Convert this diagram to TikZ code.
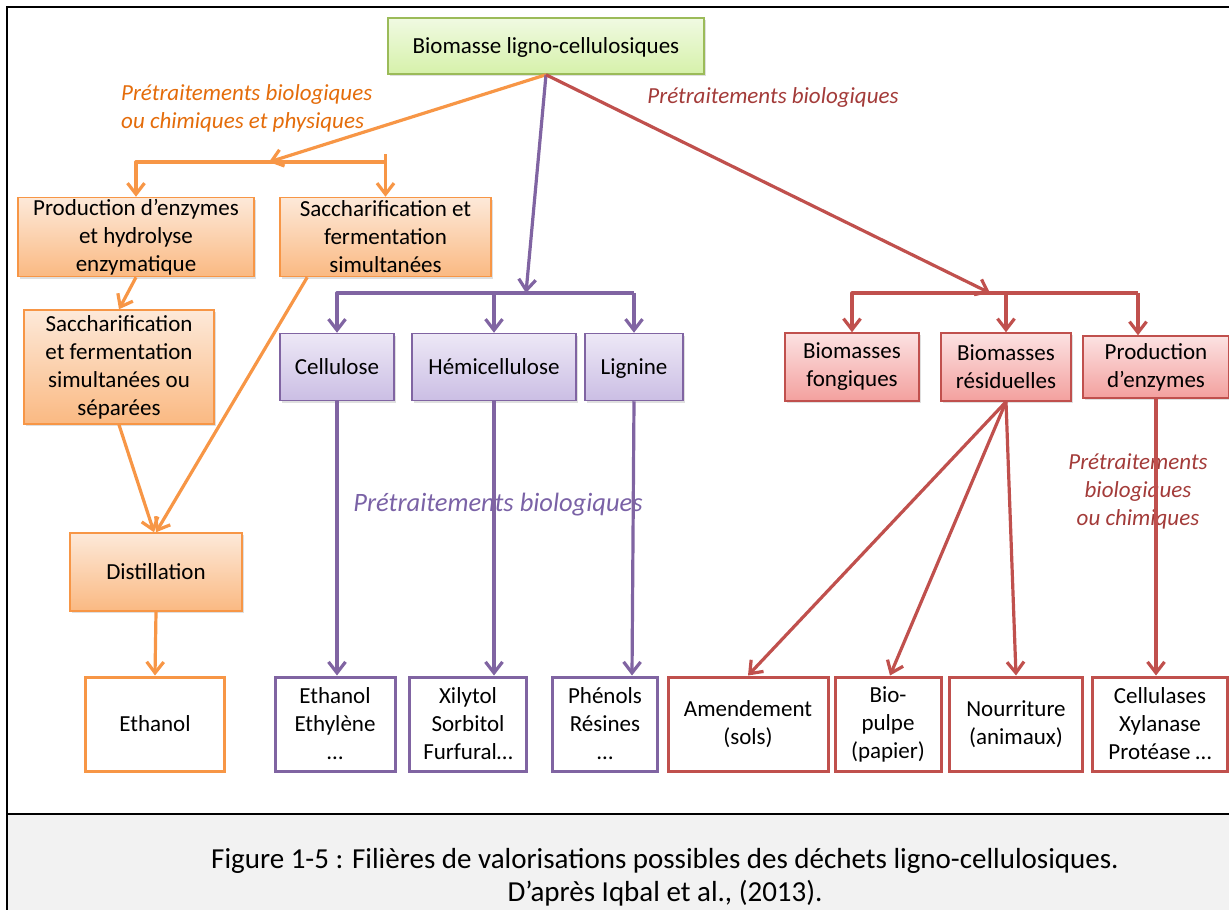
\documentclass[tikz,border=0pt]{standalone}
\usepackage{fontspec}
\setmainfont{Carlito}
\usetikzlibrary{arrows.meta,shadows}
\definecolor{orangeln}{HTML}{F79646}
\definecolor{orangetx}{HTML}{E46C0A}
\definecolor{orangetop}{RGB}{253,233,217}
\definecolor{orangebot}{RGB}{250,185,130}
\definecolor{purpleln}{HTML}{8064A2}
\definecolor{purpletx}{HTML}{7A62A6}
\definecolor{purpletop}{RGB}{237,232,246}
\definecolor{purplebot}{RGB}{203,190,228}
\definecolor{redln}{HTML}{C0504D}
\definecolor{redtx}{HTML}{A33B39}
\definecolor{redtop}{RGB}{252,226,226}
\definecolor{redbot}{RGB}{243,160,158}
\definecolor{greenln}{HTML}{9BBB59}
\definecolor{greentop}{RGB}{240,250,226}
\definecolor{greenbot}{RGB}{214,241,170}
\definecolor{capgray}{HTML}{F2F2F2}
\begin{document}
\begin{tikzpicture}[x=1pt,y=-1pt,
   every node/.style={font=\fontsize{23}{28}\selectfont, align=center, inner sep=0pt},
   boxsize/.style 2 args={minimum width=#1, minimum height=#2},
   oneline/.style={text height=19pt, text depth=4pt},
   filled/.style={draw=#1, line width=1.5pt,
      drop shadow={opacity=0.25, shadow xshift=2pt, shadow yshift=-2pt}},
   greenbox/.style={filled=greenln, top color=greentop, bottom color=greenbot},
   orangebox/.style={filled=orangeln, top color=orangetop, bottom color=orangebot},
   purplebox/.style={filled=purpleln, top color=purpletop, bottom color=purplebot},
   redbox/.style={filled=redln, top color=redtop, bottom color=redbot},
   outbox/.style={draw=#1, line width=3pt, fill=white},
   lbl/.style={font=\fontsize{23}{28}\selectfont\itshape},
   conn/.style={draw=#1, line width=3.2pt, line join=round},
   arr/.style={conn=#1, -{Straight Barb[length=11pt,width=17pt]}}
   ]

\useasboundingbox (0,0) rectangle (1229,910);
\fill[capgray] (8,815) rectangle (1229,910);
\draw[line width=2.5pt] (7,910) -- (7,7) -- (1229,7);
\draw[line width=2.5pt] (7,814) -- (1229,814);

\node[greenbox, oneline, boxsize={316pt}{56pt}] (root) at (546,46) {Biomasse ligno-cellulosiques};

\node[orangebox, boxsize={236pt}{79pt}] (prod) at (136,237) {Production d’enzymes\\et hydrolyse\\enzymatique};
\node[orangebox, boxsize={211pt}{79pt}] (ssf) at (385.5,237) {Saccharification et\\fermentation\\simultanées};
\node[orangebox, boxsize={190pt}{114pt}] (ssfou) at (119,367) {Saccharification\\et fermentation\\simultanées ou\\séparées};
\node[orangebox, oneline, boxsize={172pt}{78pt}] (distil) at (156,572) {Distillation};
\node[outbox=orangeln, oneline, boxsize={139pt}{94pt}] (eth) at (155,724) {Ethanol};

\node[purplebox, oneline, boxsize={114pt}{67pt}] (cell) at (337,367) {Cellulose};
\node[purplebox, oneline, boxsize={164pt}{67pt}] (hemi) at (494,367) {Hémicellulose};
\node[purplebox, oneline, boxsize={98pt}{67pt}] (lig) at (634,367) {Lignine};
\node[outbox=purpleln, boxsize={120pt}{94pt}] (ethyl) at (335,724) {Ethanol\\Ethylène\\…};
\node[outbox=purpleln, boxsize={117pt}{94pt}] (xyl) at (468,724) {Xilytol\\Sorbitol\\Furfural…};
\node[outbox=purpleln, boxsize={105pt}{94pt}] (phen) at (605,724) {Phénols\\Résines\\…};

\node[redbox, boxsize={134pt}{68pt}] (fong) at (852,367) {Biomasses\\fongiques};
\node[redbox, boxsize={130pt}{68pt}] (resid) at (1006,367) {Biomasses\\résiduelles};
\node[redbox, boxsize={146pt}{62pt}] (penz) at (1156,367) {Production\\d’enzymes};
\node[outbox=redln, boxsize={160pt}{94pt}] (amend) at (748,724) {Amendement\\(sols)};
\node[outbox=redln, boxsize={106pt}{94pt}] (biop) at (888,724) {Bio-\\pulpe\\(papier)};
\node[outbox=redln, boxsize={133pt}{94pt}] (nourr) at (1016,724) {Nourriture\\(animaux)};
\node[outbox=redln, boxsize={135pt}{94pt}] (enz) at (1160,724) {Cellulases\\Xylanase\\Protéase …};

\node[lbl, text=orangetx, anchor=west, align=left] (olbl) at (121,108) {Prétraitements biologiques\\ou chimiques et physiques};
\node[lbl, text=redtx] (rlbl) at (773,97) {Prétraitements biologiques};
\node[lbl, text=redtx] (rlbl2) at (1138,491) {Prétraitements\\biologiques\\ou chimiques};
\node[lbl, text=purpletx, font=\fontsize{26.5}{32}\selectfont\itshape] (plbl) at (498,505) {Prétraitements biologiques};

\node[font=\fontsize{29}{35}\selectfont] (cap1) at (665,861) {Figure 1-5 : Filières de valorisations possibles des déchets ligno-cellulosiques.};
\node[font=\fontsize{29}{35}\selectfont] (cap2) at (665,893) {D’après Iqbal et al., (2013).};

\coordinate (oL) at (136,162);
\coordinate (oR) at (385.5,162);
\coordinate (oM) at (269,162);
\coordinate (oT) at (385.5,154);
\draw[arr=orangeln] (root.south) -- (oM);
\draw[arr=orangeln] (oR) -- (oL) -- (prod.north);
\draw[arr=orangeln] (oT) -- (ssf.north);
\draw[arr=orangeln] (prod.south) -- (ssfou.north);
\draw[arr=orangeln] ([xshift=28pt]ssf.south west) -- (distil.north);
\draw[arr=orangeln] (ssfou.south) -- ([xshift=-2pt]distil.north);
\draw[arr=orangeln] (distil.south) -- (eth.north);

\coordinate (pL) at (337,293);
\coordinate (pR) at (634,293);
\coordinate (pM) at (526,293);
\draw[arr=purpleln] (root.south) -- (pM);
\draw[arr=purpleln] (pR) -- (pL) -- (cell.north);
\draw[arr=purpleln] (pR) -- (lig.north);
\draw[arr=purpleln] (hemi.north |- pL) -- (hemi.north);
\draw[arr=purpleln] (cell.south) -- (cell.south |- ethyl.north);
\draw[arr=purpleln] (hemi.south) -- (hemi.south |- xyl.north);
\draw[arr=purpleln] (lig.south) -- ([xshift=-2pt]lig.south |- phen.north);

\coordinate (rL) at (852,293);
\coordinate (rR) at (1138,293);
\coordinate (rM) at (990,293);
\draw[arr=redln] (root.south) -- (rM);
\draw[arr=redln] (rR) -- (rL) -- (fong.north);
\draw[arr=redln] (rR) -- (rR |- penz.north);
\draw[arr=redln] (resid.north |- rL) -- (resid.north);
\draw[arr=redln] (resid.south) -- (amend.north);
\draw[arr=redln] (resid.south) -- ([xshift=2pt]biop.north);
\draw[arr=redln] (resid.south) -- (nourr.north);
\draw[arr=redln] (penz.south) -- (penz.south |- enz.north);

\end{tikzpicture}
\end{document}
